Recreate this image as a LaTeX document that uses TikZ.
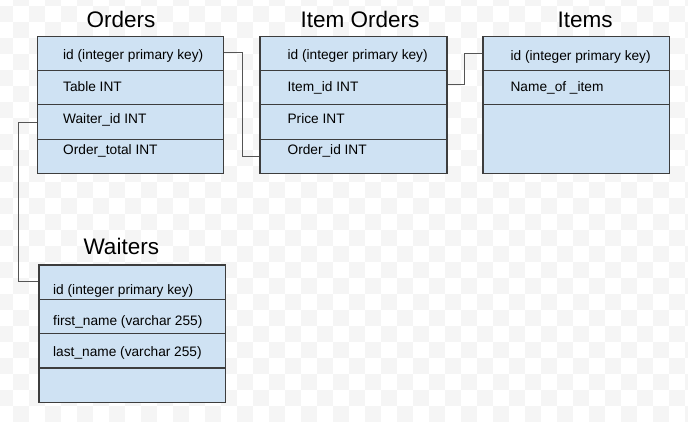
\documentclass[tikz,border=0pt]{standalone}
\usepackage{fontspec}
\setmainfont{Liberation Sans}
\definecolor{cellblue}{HTML}{CFE2F3}
\definecolor{boxline}{HTML}{3D3D3D}
\definecolor{connline}{HTML}{555555}
\definecolor{checker}{HTML}{F5F5F5}
\begin{document}
\begin{tikzpicture}[x=1pt,y=-1pt,
  row/.style={draw=boxline, line width=1.2pt, fill=cellblue, rectangle, inner sep=0pt,
    anchor=north west, minimum height=34.375pt},
  field/.style={anchor=base west, inner sep=0pt, font=\fontsize{13.7}{16}\selectfont, text=black},
  title/.style={anchor=base, inner sep=0pt, font=\fontsize{22.5}{26}\selectfont, text=black},
  conn/.style={draw=connline, line width=0.9pt}]
\useasboundingbox (0,0) rectangle (688,421);
\fill[white] (0,0) rectangle (688,421);
\begin{scope}
\clip (0,0) rectangle (688,421);
\foreach \i in {-1,...,42} {
  \foreach \j in {-1,...,26} {
    \pgfmathtruncatemacro\s{mod(\i+\j+2,2)}
    \ifnum\s=1
      \fill[checker] (13+16*\i,6+16*\j) rectangle +(16,16);
    \fi
  }
}
\end{scope}

% Orders
\node[title] (tOrders) at (121,27.7) {Orders};
\node[row, minimum width=186.3pt] (o1) at (36.7,35.5) {};
\node[row, minimum width=186.3pt] (o2) at (36.7,69.875) {};
\node[row, minimum width=186.3pt] (o3) at (36.7,104.25) {};
\node[row, minimum width=186.3pt] (o4) at (36.7,138.625) {};
\node[field] (fo1) at (63,59.5) {id (integer primary key)};
\node[field] (fo2) at (63,91.2) {Table INT};
\node[field] (fo3) at (63,123) {Waiter\_id INT};
\node[field] (fo4) at (63,154.3) {Order\_total INT};

% Item Orders
\node[title] (tItemOrders) at (360,27.7) {Item Orders};
\node[row, minimum width=187pt] (io1) at (259.3,35.5) {};
\node[row, minimum width=187pt] (io2) at (259.3,69.875) {};
\node[row, minimum width=187pt] (io3) at (259.3,104.25) {};
\node[row, minimum width=187pt] (io4) at (259.3,138.625) {};
\node[field] (fio1) at (287.4,59.8) {id (integer primary key)};
\node[field] (fio2) at (287.4,91.7) {Item\_id INT};
\node[field] (fio3) at (287.4,123.5) {Price INT};
\node[field] (fio4) at (287.4,154.8) {Order\_id INT};

% Items
\node[title] (tItems) at (585,27.7) {Items};
\node[row, minimum width=186.7pt] (it1) at (482.3,35.5) {};
\node[row, minimum width=186.7pt] (it2) at (482.3,69.875) {};
\node[row, minimum width=186.7pt, minimum height=68.75pt] (it3) at (482.3,104.25) {};
\node[field] (fit1) at (510.4,60.2) {id (integer primary key)};
\node[field] (fit2) at (510.4,91.3) {Name\_of \_item};

% Waiters
\node[title] (tWaiters) at (121.3,254) {Waiters};
\node[row, minimum width=186.4pt, minimum height=34.35pt] (w1) at (38.3,264.3) {};
\node[row, minimum width=186.4pt, minimum height=34.35pt] (w2) at (38.3,298.65) {};
\node[row, minimum width=186.4pt, minimum height=34.35pt] (w3) at (38.3,333) {};
\node[row, minimum width=186.4pt, minimum height=34.35pt] (w4) at (38.3,367.35) {};
\node[field] (fw1) at (53,294) {id (integer primary key)};
\node[field] (fw2) at (53,325) {first\_name (varchar 255)};
\node[field] (fw3) at (53,356) {last\_name (varchar 255)};

% Connectors
\draw[conn] ([yshift=0.4pt]o1.east) -- ++(18,0) |- (io4.west);
\draw[conn] ([yshift=2.8pt]io2.east) -- ++(17,0) |- (it1.west);
\draw[conn] ([yshift=-0.8pt]o3.west) -- ++(-18.4,0) |- ([yshift=0.5pt]w1.west);
\end{tikzpicture}
\end{document}
